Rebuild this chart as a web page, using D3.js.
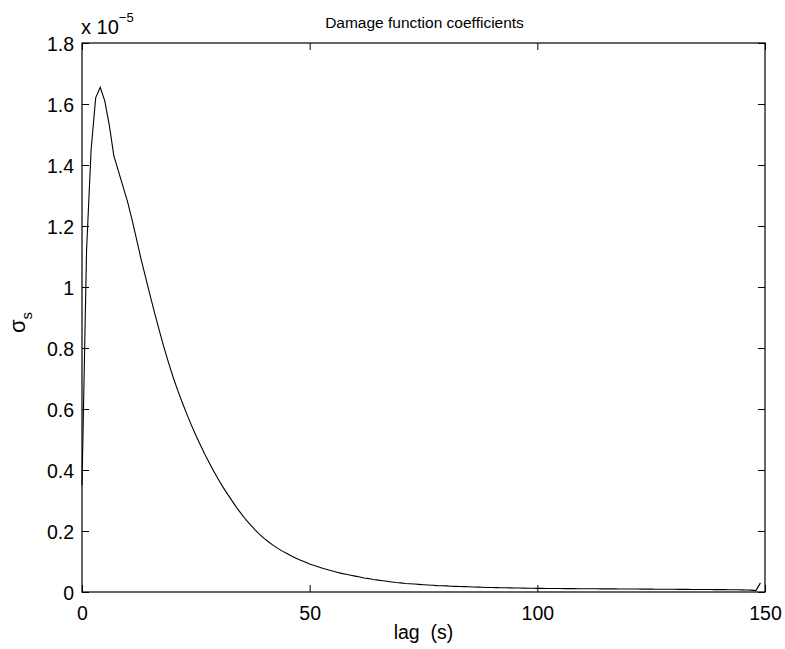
<!DOCTYPE html>
<html>
<head>
<meta charset="utf-8">
<script src="https://cdn.jsdelivr.net/npm/d3@7"></script>
<style>
  html, body { margin: 0; padding: 0; background: #fff; }
  svg { display: block; font-family: "Liberation Sans", Arial, Helvetica, sans-serif; }
</style>
</head>
<body>
<svg id="chart" width="785" height="649"></svg>
<script>
// ---- data (values in units of 1e-5) ----
const title = "Damage function coefficients";
const xLabel = "lag  (s)";
const xTicks = [0, 50, 100, 150];
const yTicks = [0, 0.2, 0.4, 0.6, 0.8, 1, 1.2, 1.4, 1.6, 1.8];
const lags = d3.range(0, 150); // 0..149
const sigma = [
  0.35, 1.12, 1.45, 1.62, 1.655, 1.61, 1.53, 1.43, 1.38, 1.33,
  1.28, 1.22, 1.155, 1.09, 1.03, 0.97, 0.912, 0.856, 0.802, 0.752,
  0.705, 0.662, 0.622, 0.584, 0.548, 0.514, 0.482, 0.451, 0.422, 0.394,
  0.368, 0.343, 0.320, 0.298, 0.276, 0.256, 0.237, 0.220, 0.204, 0.189,
  0.176, 0.164, 0.153, 0.143, 0.134, 0.126, 0.118, 0.111, 0.104, 0.098,
  0.092, 0.087, 0.082, 0.077, 0.073, 0.069, 0.065, 0.061, 0.058, 0.055,
  0.052, 0.049, 0.046, 0.044, 0.041, 0.039, 0.037, 0.035, 0.033, 0.031,
  0.030, 0.028, 0.027, 0.026, 0.025, 0.024, 0.023, 0.022, 0.021, 0.0205,
  0.020, 0.019, 0.0185, 0.018, 0.0175, 0.017, 0.0165, 0.016, 0.0155, 0.015,
  0.0147, 0.0144, 0.0141, 0.0138, 0.0135, 0.0132, 0.013, 0.0127, 0.0125, 0.0123,
  0.012, 0.0119, 0.0117, 0.0116, 0.0114, 0.0113, 0.0112, 0.0111, 0.011, 0.0109,
  0.0108, 0.0107, 0.0106, 0.0105, 0.0104, 0.0103, 0.0102, 0.0101, 0.010, 0.0099,
  0.0098, 0.0097, 0.0096, 0.0095, 0.0094, 0.0093, 0.0092, 0.0091, 0.009, 0.0089,
  0.0088, 0.0087, 0.0086, 0.0085, 0.0084, 0.0083, 0.0082, 0.0081, 0.008, 0.0079,
  0.0078, 0.0077, 0.0076, 0.0074, 0.0072, 0.007, 0.0066, 0.006, 0.0045, 0.03
];

// ---- layout ----
const L = 82, R = 765, T = 43, B = 592;
const svg = d3.select("#chart");
const x = d3.scaleLinear().domain([0, 150]).range([L, R]);
const y = d3.scaleLinear().domain([0, 1.8]).range([B, T]);
const tickLen = 7;
const fs = 19.5;

// box
svg.append("rect")
  .attr("x", L).attr("y", T).attr("width", R - L).attr("height", B - T)
  .attr("fill", "none").attr("stroke", "#000").attr("stroke-width", 1.2);

// axes with inward ticks
const xAxisB = d3.axisBottom(x).tickValues(xTicks).tickSizeInner(-tickLen).tickSizeOuter(0).tickPadding(14).tickFormat(d3.format("d"));
const gx = svg.append("g").attr("transform", `translate(0,${B})`).call(xAxisB);
const xAxisT = d3.axisTop(x).tickValues(xTicks).tickSizeInner(-tickLen).tickSizeOuter(0).tickFormat("");
const gxt = svg.append("g").attr("transform", `translate(0,${T})`).call(xAxisT);
const yFmt = d => (d === 0 ? "0" : d === 1 ? "1" : d3.format(".1f")(d));
const yAxisL = d3.axisLeft(y).tickValues(yTicks).tickSizeInner(-tickLen).tickSizeOuter(0).tickPadding(8).tickFormat(yFmt);
const gy = svg.append("g").attr("transform", `translate(${L},0)`).call(yAxisL);
const yAxisR = d3.axisRight(y).tickValues(yTicks).tickSizeInner(-tickLen).tickSizeOuter(0).tickFormat("");
const gyr = svg.append("g").attr("transform", `translate(${R},0)`).call(yAxisR);

[gx, gxt, gy, gyr].forEach(g => {
  g.select(".domain").remove();
  g.selectAll(".tick line").attr("stroke", "#000").attr("stroke-width", 1);
  g.selectAll(".tick text").attr("fill", "#000").style("font-size", fs + "px")
    .style("font-family", '"Liberation Sans", Arial, sans-serif');
});
gy.selectAll(".tick text").attr("dy", "0.36em");
gx.selectAll(".tick text").attr("dy", "0.71em");

// line
const line = d3.line().x((d, i) => x(lags[i])).y(d => y(d));
svg.append("path").datum(sigma)
  .attr("d", line).attr("fill", "none").attr("stroke", "#000").attr("stroke-width", 1.1);

// title
svg.append("text").attr("x", (L + R) / 2 + 1).attr("y", 28).attr("text-anchor", "middle")
  .style("font-size", "15.5px").text(title);

// exponent label
const ex = svg.append("text").attr("x", 81).attr("y", 34).style("font-size", "20px");
ex.append("tspan").text("x 10");
ex.append("tspan").attr("dy", -12).style("font-size", "13px").text("\u22125");

// x label
svg.append("text").attr("x", (L + R) / 2).attr("y", 639).attr("text-anchor", "middle")
  .style("font-size", fs + "px").attr("xml:space", "preserve").style("white-space", "pre").text(xLabel);

// y label
const yl = svg.append("text").attr("transform", `translate(25,${(T + B) / 2 + 5}) rotate(-90)`)
  .attr("text-anchor", "middle").style("font-size", "22px");
yl.append("tspan").text("\u03c3");
yl.append("tspan").attr("dy", 7).style("font-size", "15px").text("s");
</script>
</body>
</html>
